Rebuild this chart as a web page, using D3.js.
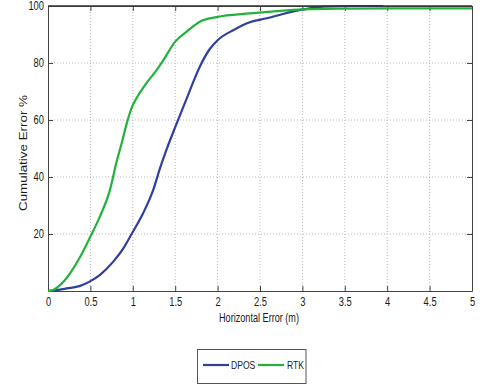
<!DOCTYPE html>
<html><head><meta charset="utf-8">
<script src="https://cdn.jsdelivr.net/npm/d3@7"></script>
<style>body{margin:0;background:#fff}svg{display:block}text{font-family:"Liberation Sans",Arial,sans-serif;fill:#1a1a1a}</style>
</head><body><svg id="c" width="500" height="391"></svg>
<script>
const xTicks = [0,0.5,1,1.5,2,2.5,3,3.5,4,4.5,5];
const yTicks = [20,40,60,80,100];
const seriesNames = ["DPOS","RTK"];
const dposX = [0,0.1,0.22,0.38,0.49,0.61,0.77,0.9,0.99,1.12,1.24,1.32,1.39,1.5,1.635,1.79,1.91,2.0,2.19,2.38,2.58,2.77,3.01,3.25,3.6,3.95];
const dposY = [0,0.3,0.9,1.8,3.3,5.6,10.3,15.5,20.2,27.2,35.4,43,49,57.5,67.5,78.7,85,88,91.6,94.3,95.7,97.2,98.8,99.8,100,100];
const rtkX = [0,0.06,0.12,0.19,0.26,0.38,0.49,0.61,0.73,0.81,0.87,0.93,0.99,1.05,1.15,1.28,1.36,1.5,1.635,1.79,1.99,2.38,2.7,3.01,3.5,4,5];
const rtkY = [0,0.3,1.5,3.5,6.2,12,18.5,26,35.4,45.5,52,59,64.5,68,72.5,77.5,81,87.5,91,94.5,96.1,97.4,98.2,98.8,99.1,99.2,99.2];
const colors = {DPOS:"#2e3f9e", RTK:"#22b23c"};

const svg = d3.select("#c");
const L=48,R=472,T=6,B=291;
const x = d3.scaleLinear().domain([0,5]).range([L,R]);
const y = d3.scaleLinear().domain([0,100]).range([B,T]);
const condense = (sel, f=0.78) => sel.each(function(){
  const w = this.getComputedTextLength();
  d3.select(this).attr("textLength", w*f).attr("lengthAdjust","spacingAndGlyphs");
});

// grid
const g = svg.append("g");
g.selectAll(".gx").data(xTicks.slice(1,-1)).enter().append("line")
  .attr("x1",d=>x(d)).attr("x2",d=>x(d)).attr("y1",T).attr("y2",B)
  .attr("stroke","#b8b8b8").attr("stroke-width",1).attr("stroke-dasharray","1,2");
g.selectAll(".gy").data(yTicks.slice(0,-1)).enter().append("line")
  .attr("y1",d=>y(d)).attr("y2",d=>y(d)).attr("x1",L).attr("x2",R)
  .attr("stroke","#b8b8b8").attr("stroke-width",1).attr("stroke-dasharray","1,2");

// axes
svg.append("g").attr("transform",`translate(0,${B})`)
  .call(d3.axisBottom(x).tickValues(xTicks).tickSizeInner(-5).tickSizeOuter(0).tickPadding(6).tickFormat(d3.format("~g")));
svg.append("g").attr("transform",`translate(${L},0)`)
  .call(d3.axisLeft(y).tickValues(yTicks).tickSizeInner(-5).tickSizeOuter(0).tickPadding(4));
svg.append("g").attr("transform",`translate(0,${T})`)
  .call(d3.axisTop(x).tickValues(xTicks).tickSizeInner(-5).tickSizeOuter(0).tickFormat(""));
svg.append("g").attr("transform",`translate(${R},0)`)
  .call(d3.axisRight(y).tickValues(yTicks).tickSizeInner(-5).tickSizeOuter(0).tickFormat(""));
svg.selectAll(".domain").attr("stroke","#444");
svg.selectAll(".tick line").attr("stroke","#444");
svg.selectAll(".tick text").attr("font-size",12).style("font-family",'"Liberation Sans",Arial,sans-serif').attr("fill","#1a1a1a").call(condense);

// lines
const line = d3.line().x(d=>x(d[0])).y(d=>y(d[1])).curve(d3.curveMonotoneX);
const data = {DPOS: dposX.map((v,i)=>[v,dposY[i]]), RTK: rtkX.map((v,i)=>[v,rtkY[i]])};
seriesNames.forEach(n=>{
  svg.append("path").datum(data[n]).attr("d",line).attr("fill","none")
    .attr("stroke",colors[n]).attr("stroke-width",2.2).attr("stroke-linejoin","round");
});
svg.append("line").attr("x1",L).attr("x2",R).attr("y1",T).attr("y2",T).attr("stroke","#333").attr("stroke-width",1.3);

// labels
svg.append("text").attr("x",259).attr("y",322).attr("text-anchor","middle").attr("font-size",12).text("Horizontal Error (m)")
  .attr("textLength",80).attr("lengthAdjust","spacingAndGlyphs");
svg.append("text").attr("transform","translate(27,153) rotate(-90)").attr("text-anchor","middle").attr("font-size",11.5).text("Cumulative Error %")
  .attr("textLength",116).attr("lengthAdjust","spacingAndGlyphs");

// legend
const lg = svg.append("g");
lg.append("rect").attr("x",197.5).attr("y",349.5).attr("width",108.5).attr("height",34).attr("fill","#fff").attr("stroke","#555");
const items = [{n:"DPOS",x1:203,x2:229,tx:231},{n:"RTK",x1:258,x2:284,tx:287}];
items.forEach(it=>{
  lg.append("line").attr("x1",it.x1).attr("x2",it.x2).attr("y1",365).attr("y2",365).attr("stroke",colors[it.n]).attr("stroke-width",2.2);
  lg.append("text").attr("x",it.tx).attr("y",369).attr("font-size",11).text(it.n).call(condense);
});
</script></body></html>
